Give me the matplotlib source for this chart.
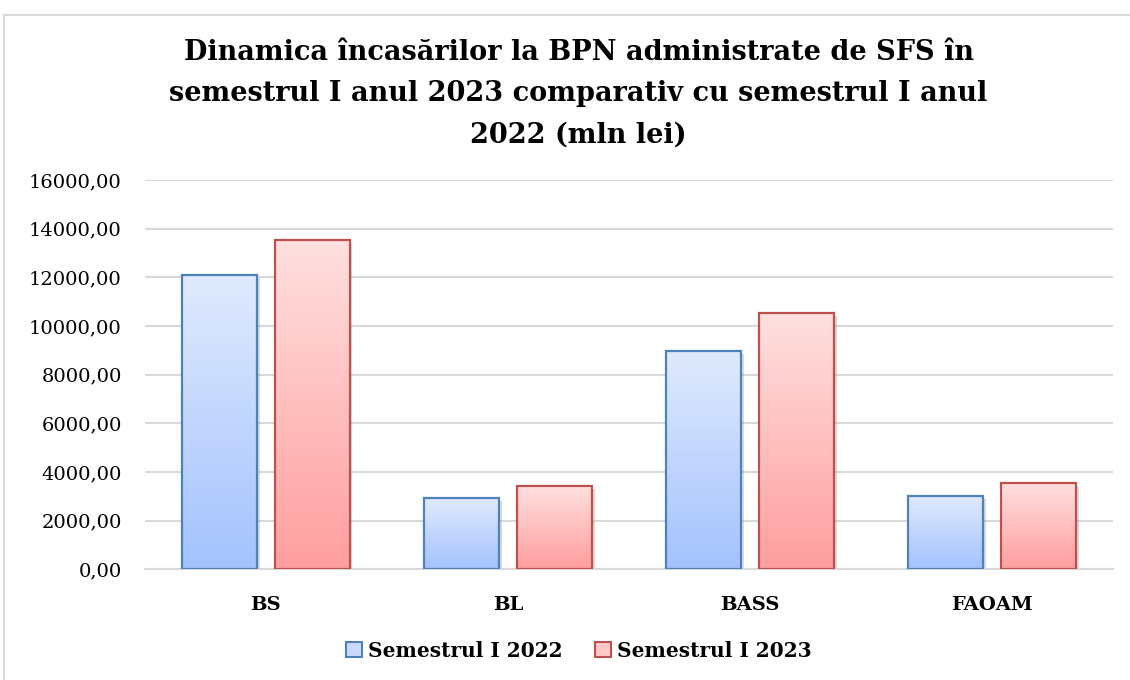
import numpy as np
import matplotlib
matplotlib.use('Agg')
from matplotlib import pyplot as plt
from matplotlib.patches import Patch
from matplotlib.colors import LinearSegmentedColormap
import matplotlib.patheffects as pe

categories = ['BS', 'BL', 'BASS', 'FAOAM']
sem_2022 = [12080, 2920, 8970, 3010]
sem_2023 = [13540, 3420, 10520, 3550]
series_names = ['Semestrul I 2022', 'Semestrul I 2023']
yticks = [0, 2000, 4000, 6000, 8000, 10000, 12000, 14000, 16000]
ytick_labels = ['{:.2f}'.format(v).replace('.', ',') for v in yticks]

title = ('Dinamica încasărilor la BPN administrate de SFS în\n'
         'semestrul I anul 2023 comparativ cu semestrul I anul\n'
         '2022 (mln lei)')

blue_cmap = LinearSegmentedColormap.from_list('b', ['#a3c2fd', '#e0eafe'])
red_cmap = LinearSegmentedColormap.from_list('r', ['#ff9e9e', '#ffe0e0'])
blue_edge = '#4f81bd'
red_edge = '#c0504d'

plt.rcParams['font.family'] = 'DejaVu Serif'

fig = plt.figure(figsize=(11.3, 6.8), dpi=100)
ax = fig.add_axes([0.128, 0.163, 0.857, 0.572])

x = np.arange(len(categories))
w = 0.31
off = 0.192
grad = np.linspace(0, 1, 256).reshape(-1, 1)

shadow = [pe.SimplePatchShadow(offset=(2, -2), shadow_rgbFace='#999999', alpha=0.35), pe.Normal()]
for vals, dx, cmap, ec in [(sem_2022, -off, blue_cmap, blue_edge), (sem_2023, off, red_cmap, red_edge)]:
    # white base with soft shadow, gradient on top, then the outline
    base = ax.bar(x + dx, vals, width=w, facecolor='white', edgecolor='none', zorder=2)
    for b in base:
        b.set_path_effects(shadow)
    bars = ax.bar(x + dx, vals, width=w, facecolor='none', edgecolor=ec, linewidth=1.6, zorder=3)
    for b in bars:
        x0 = b.get_x()
        h = b.get_height()
        im = ax.imshow(grad, extent=[x0, x0 + b.get_width(), 0, h], origin='lower',
                       cmap=cmap, aspect='auto', zorder=2.5)
        im.set_clip_path(b)

ax.set_xlim(-0.5, 3.5)
ax.set_ylim(0, 16000)
ax.set_yticks(yticks)
ax.set_yticklabels(ytick_labels, fontsize=14)
ax.set_xticks(x)
ax.set_xticklabels(categories, fontsize=14, fontweight='bold')
ax.tick_params(axis='x', length=0, pad=19)
ax.tick_params(axis='y', length=0, pad=16.5)
ax.grid(axis='y', color='#d9d9d9', linewidth=1.5, zorder=0)
for s in ['top', 'right', 'left']:
    ax.spines[s].set_visible(False)
ax.spines['bottom'].set_color('#d9d9d9')
ax.spines['bottom'].set_linewidth(1.5)
ax.set_axisbelow(True)

fig.text(0.512, 0.862, title, ha='center', va='center', fontsize=19.5,
         fontweight='bold', linespacing=1.7)

handles = [Patch(facecolor='#c9dafe', edgecolor=blue_edge, linewidth=1.5),
           Patch(facecolor='#ffc8c8', edgecolor=red_edge, linewidth=1.5)]
fig.legend(handles, series_names, loc='center', bbox_to_anchor=(0.512, 0.043), ncol=2,
           frameon=False, prop={'weight': 'bold', 'size': 14.5}, handlelength=0.8,
           handleheight=0.8, handletextpad=0.3, columnspacing=1.6)

fig.add_artist(plt.Line2D([4 / 1130, 4 / 1130], [0, 1 - 15 / 680], color='#d9d9d9', lw=1.5))
fig.add_artist(plt.Line2D([4 / 1130, 1], [1 - 15 / 680, 1 - 15 / 680], color='#d9d9d9', lw=1.5))

fig.savefig('out.png', dpi=100)
